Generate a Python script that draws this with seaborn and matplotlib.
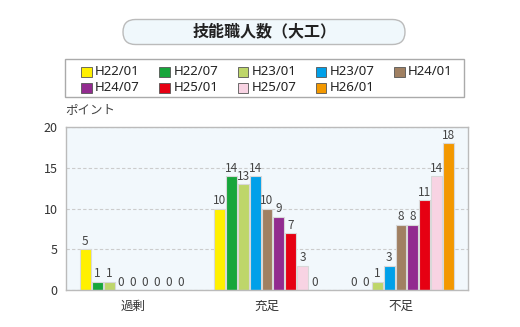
import matplotlib
matplotlib.use("Agg")
import matplotlib.pyplot as plt
from matplotlib.patches import FancyBboxPatch, Rectangle
import seaborn as sns
import pandas as pd

categories = ["過剰", "充足", "不足"]
series = ["H22/01", "H22/07", "H23/01", "H23/07", "H24/01",
          "H24/07", "H25/01", "H25/07", "H26/01"]
colors = ["#FFF000", "#17A63B", "#BED66A", "#00A0E9", "#A08062",
          "#922B8F", "#E60012", "#F8D3E3", "#F39800"]
values = {
    "H22/01": [5, 10, 0],
    "H22/07": [1, 14, 0],
    "H23/01": [1, 13, 1],
    "H23/07": [0, 14, 3],
    "H24/01": [0, 10, 8],
    "H24/07": [0, 9, 8],
    "H25/01": [0, 7, 11],
    "H25/07": [0, 3, 14],
    "H26/01": [0, 0, 18],
}
title = "技能職人数（大工）"
ylabel = "ポイント"
yticks = [0, 5, 10, 15, 20]

rows = []
for s in series:
    for c, v in zip(categories, values[s]):
        rows.append({"cat": c, "series": s, "value": v})
df = pd.DataFrame(rows)

sns.set_style("white")
plt.rcParams["font.family"] = ["Noto Sans CJK JP", "DejaVu Sans"]

W, H = 520, 327
fig = plt.figure(figsize=(W / 100, H / 100), dpi=100)

# overlay in pixel coordinates for decorations
ov = fig.add_axes([0, 0, 1, 1], zorder=0)
ov.set_xlim(0, W)
ov.set_ylim(H, 0)
ov.axis("off")

ax = fig.add_axes([66 / W, 1 - 290 / H, (468 - 66) / W, (290 - 127) / H],
                  zorder=1)
ax.set_facecolor("#F2F8FC")

sns.barplot(data=df, x="cat", y="value", hue="series", order=categories,
            hue_order=series, palette=colors, width=0.8, gap=0.08, ax=ax,
            edgecolor="#D8D8D8", linewidth=0.8, legend=False, saturation=1)

for cont in ax.containers:
    ax.bar_label(cont, fmt="%d", padding=1, fontsize=8.5, color="#444444")

ax.set_ylim(0, 20)
ax.set_xlim(-0.5, 2.5)
ax.set_yticks(yticks)
ax.set_xlabel("")
ax.set_ylabel("")
ax.tick_params(axis="y", length=0, labelsize=9, labelcolor="#333333", pad=6)
ax.tick_params(axis="x", which="major", length=0, labelsize=9,
               labelcolor="#333333", pad=7)
ax.set_xticks([0.5, 1.5], minor=True)
ax.tick_params(axis="x", which="minor", direction="in", length=4,
               color="#BBBBBB", width=1)
ax.yaxis.grid(True, linestyle=(0, (3, 2)), color="#CCCCCC", linewidth=0.8)
ax.set_axisbelow(True)
for sp in ax.spines.values():
    sp.set_color("#BBBBBB")
    sp.set_linewidth(1)

# y label
ov.text(65, 110, ylabel, fontsize=9, color="#444444", ha="left", va="center")

# title box
tb = FancyBboxPatch((123, 19.5), 405 - 123, 25,
                    boxstyle="round,pad=0,rounding_size=12.5",
                    facecolor="#F0F8FC", edgecolor="#BBBBBB", linewidth=1)
ov.add_patch(tb)
ov.text(265, 31.5, title, fontsize=11.5, fontweight="bold",
        color="#222222", ha="center", va="center")

# legend box
ov.add_patch(Rectangle((65, 59), 464 - 65, 97 - 59, facecolor="white",
                       edgecolor="#AAAAAA", linewidth=1))
for i, (s, c) in enumerate(zip(series, colors)):
    r, col = divmod(i, 5)
    x0 = 81 + col * 78.3
    yc = 71.5 + r * 16
    ov.add_patch(Rectangle((x0, yc - 5), 10.5, 10, facecolor=c,
                           edgecolor="#555555", linewidth=0.6))
    ov.text(x0 + 14, yc, s, fontsize=9.5, color="#222222",
            ha="left", va="center", family=["Noto Sans", "DejaVu Sans"])

fig.savefig("out.png", dpi=100)
